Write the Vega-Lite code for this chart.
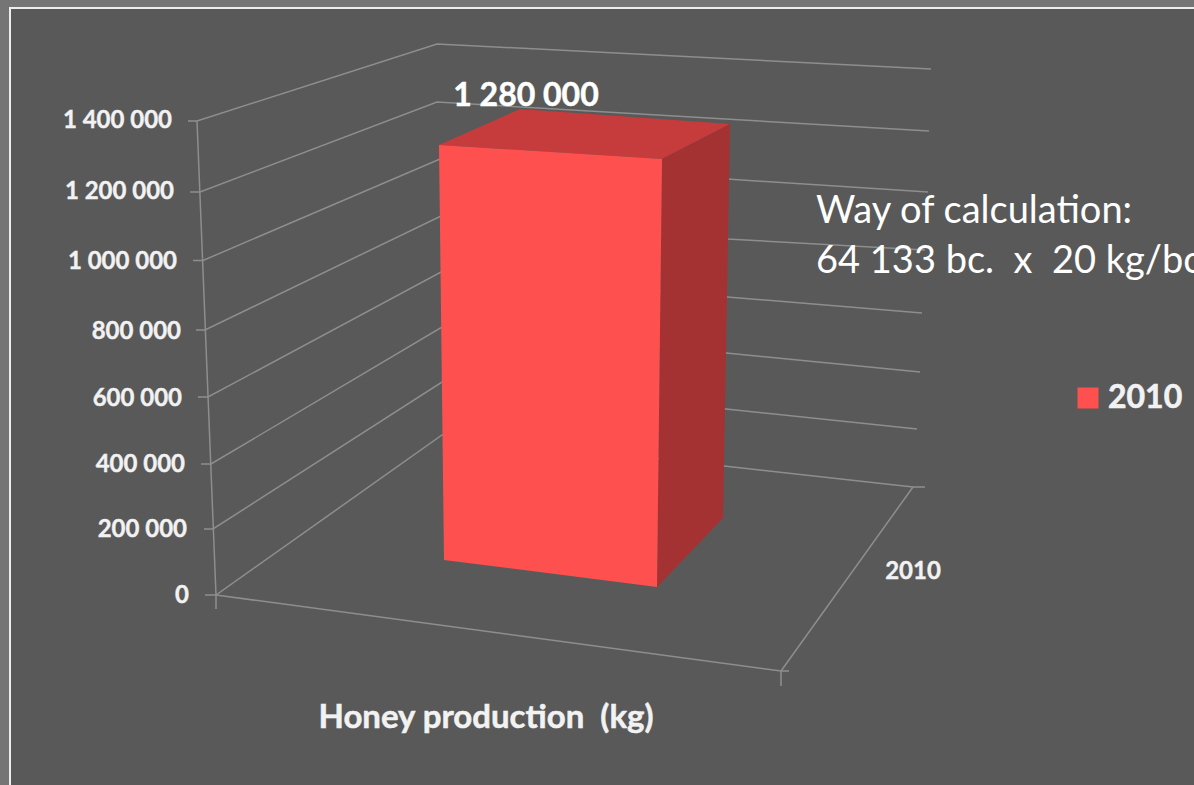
{"$schema":"https://vega.github.io/schema/vega-lite/v6.json","width":1194,"height":785,"padding":0,"autosize":{"type":"none"},"background":"#757575","config":{"view":{"stroke":null}},
"datasets":{
"faces":[
{"shape":"panel","v":1,"x":10,"h":1761000},{"shape":"panel","v":2,"x":1194,"h":1761000},{"shape":"panel","v":3,"x":1194,"h":-570000},{"shape":"panel","v":4,"x":10,"h":-570000}
],
"border":[
{"v":1,"x":10,"h":-570000},{"v":2,"x":10,"h":1761000},{"v":3,"x":1194,"h":1761000}
],
"bar":[
{"shape":"top","v":1,"x":439,"h":1350000},{"shape":"top","v":2,"x":520,"h":1458000},{"shape":"top","v":3,"x":730,"h":1413000},{"shape":"top","v":4,"x":662,"h":1308000},
{"shape":"side","v":1,"x":662,"h":1308000},{"shape":"side","v":2,"x":730,"h":1413000},{"shape":"side","v":3,"x":723,"h":231000},{"shape":"side","v":4,"x":657,"h":24000},
{"shape":"front","v":1,"x":439,"h":1350000},{"shape":"front","v":2,"x":662,"h":1308000},{"shape":"front","v":3,"x":657,"h":24000},{"shape":"front","v":4,"x":444,"h":105000}
],
"grid":[
{"g":"1400000","v":1,"x":188,"h":1422000},{"g":"1400000","v":2,"x":197,"h":1422000},{"g":"1400000","v":3,"x":437,"h":1653000},{"g":"1400000","v":4,"x":931,"h":1578000},
{"g":"1200000","v":1,"x":190,"h":1209000},{"g":"1200000","v":2,"x":200,"h":1209000},{"g":"1200000","v":3,"x":437,"h":1479000},{"g":"1200000","v":4,"x":929,"h":1392000},
{"g":"1000000","v":1,"x":193,"h":1003500},{"g":"1000000","v":2,"x":203,"h":1003500},{"g":"1000000","v":3,"x":440,"h":1308000},{"g":"1000000","v":4,"x":727,"h":1248000},{"g":"1000000","v":5,"x":928,"h":1209000},
{"g":"800000","v":1,"x":196,"h":795000},{"g":"800000","v":2,"x":205,"h":795000},{"g":"800000","v":3,"x":441,"h":1137000},{"g":"800000","v":4,"x":727,"h":1068000},{"g":"800000","v":5,"x":925,"h":1035000},
{"g":"600000","v":1,"x":198,"h":594000},{"g":"600000","v":2,"x":208,"h":594000},{"g":"600000","v":3,"x":441,"h":969000},{"g":"600000","v":4,"x":727,"h":894000},{"g":"600000","v":5,"x":922,"h":846000},
{"g":"400000","v":1,"x":201,"h":393000},{"g":"400000","v":2,"x":211,"h":393000},{"g":"400000","v":3,"x":442,"h":804000},{"g":"400000","v":4,"x":726,"h":726000},{"g":"400000","v":5,"x":920,"h":669000},
{"g":"200000","v":1,"x":204,"h":198000},{"g":"200000","v":2,"x":213,"h":198000},{"g":"200000","v":3,"x":442,"h":639000},{"g":"200000","v":4,"x":726,"h":558000},{"g":"200000","v":5,"x":917,"h":498000},
{"g":"0","v":1,"x":205,"h":0},{"g":"0","v":2,"x":216,"h":0},{"g":"0","v":3,"x":442,"h":480000},{"g":"0","v":4,"x":724,"h":387000},{"g":"0","v":5,"x":913,"h":324000},{"g":"0","v":6,"x":925,"h":324000},
{"g":"wall","v":1,"x":197,"h":1422000},{"g":"wall","v":2,"x":216,"h":0},{"g":"wall","v":3,"x":216,"h":-42000},
{"g":"front","v":1,"x":216,"h":0},{"g":"front","v":2,"x":781,"h":-228000},{"g":"front","v":3,"x":789,"h":-228000},
{"g":"depth","v":1,"x":913,"h":324000},{"g":"depth","v":2,"x":781,"h":-228000},{"g":"depth","v":3,"x":781,"h":-273000}
],
"ticks":[
{"label":"1 400 000","x":172,"h":1422000},{"label":"1 200 000","x":174,"h":1209000},{"label":"1 000 000","x":177,"h":999000},{"label":"800 000","x":181,"h":789000},{"label":"600 000","x":182,"h":588000},{"label":"400 000","x":185,"h":390000},{"label":"200 000","x":187,"h":195000},{"label":"0","x":189,"h":-3000}
],
"notes":[
{"label":"Way of calculation:","x":816,"h":1149000},{"label":"64 133 bc.\u00a0 x\u00a0 20 kg/bc","x":816,"h":999000}
]
},
"layer":[
{"data":{"name":"faces"},"mark":{"type":"line","fill":"#595959","strokeWidth":0,"interpolate":"linear-closed"},"encoding":{"x":{"field":"x","type":"quantitative","scale":{"domain":[0,1194],"nice":false,"zero":false},"axis":null},"y":{"field":"h","type":"quantitative","scale":{"domain":[-570000,1785000],"nice":false,"zero":false},"axis":null},"order":{"field":"v"},"detail":{"field":"shape"}}},
{"data":{"name":"border"},"mark":{"type":"line","stroke":"#EDEDED","strokeWidth":2},"encoding":{"x":{"field":"x","type":"quantitative"},"y":{"field":"h","type":"quantitative"},"order":{"field":"v"}}},
{"data":{"name":"grid"},"mark":{"type":"line","stroke":"#8E8E8E","strokeWidth":1.5},"encoding":{"x":{"field":"x","type":"quantitative"},"y":{"field":"h","type":"quantitative"},"order":{"field":"v"},"detail":{"field":"g"}}},
{"data":{"name":"bar"},"mark":{"type":"line","strokeWidth":0,"interpolate":"linear-closed"},"encoding":{"x":{"field":"x","type":"quantitative"},"y":{"field":"h","type":"quantitative"},"order":{"field":"v"},"detail":{"field":"shape"},"fill":{"field":"shape","type":"nominal","scale":{"domain":["top","side","front"],"range":["#C63C3C","#A53232","#FF5050"]},"legend":null}}},
{"data":{"name":"ticks"},"mark":{"type":"text","font":"Lato","fontWeight":"bold","fontSize":24,"align":"right","baseline":"middle","fill":"#F2F2F2","stroke":"#F2F2F2","strokeWidth":0.4},"encoding":{"x":{"field":"x","type":"quantitative"},"y":{"field":"h","type":"quantitative"},"text":{"field":"label"}}},
{"data":{"name":"notes"},"mark":{"type":"text","font":"Lato","fontSize":38,"align":"left","baseline":"middle","fill":"#FFFFFF"},"encoding":{"x":{"field":"x","type":"quantitative"},"y":{"field":"h","type":"quantitative"},"text":{"field":"label"}}},
{"data":{"values":[{"label":"1 280 000","x":526,"h":1497000}]},"mark":{"type":"text","font":"Lato","fontWeight":"bold","fontSize":32,"align":"center","baseline":"middle","fill":"#FFFFFF","stroke":"#FFFFFF","strokeWidth":0.5},"encoding":{"x":{"field":"x","type":"quantitative"},"y":{"field":"h","type":"quantitative"},"text":{"field":"label"}}},
{"data":{"values":[{"label":"Honey production\u00a0 (kg)","x":486,"h":-369000}]},"mark":{"type":"text","font":"Lato","fontWeight":"bold","fontSize":33,"align":"center","baseline":"middle","fill":"#F2F2F2","stroke":"#F2F2F2","strokeWidth":0.5},"encoding":{"x":{"field":"x","type":"quantitative"},"y":{"field":"h","type":"quantitative"},"text":{"field":"label"}}},
{"data":{"values":[{"label":"2010","x":913,"h":69000}]},"mark":{"type":"text","font":"Lato","fontWeight":"bold","fontSize":24,"align":"center","baseline":"middle","fill":"#F2F2F2","stroke":"#F2F2F2","strokeWidth":0.4},"encoding":{"x":{"field":"x","type":"quantitative"},"y":{"field":"h","type":"quantitative"},"text":{"field":"label"}}},
{"data":{"values":[{"label":"2010","x":1108,"h":591000}]},"mark":{"type":"text","font":"Lato","fontWeight":"bold","fontSize":32,"align":"left","baseline":"middle","fill":"#F2F2F2","stroke":"#F2F2F2","strokeWidth":0.6},"encoding":{"x":{"field":"x","type":"quantitative"},"y":{"field":"h","type":"quantitative"},"text":{"field":"label"}}},
{"data":{"values":[{"x":1088,"h":591000}]},"mark":{"type":"point","shape":"square","filled":true,"size":441,"fill":"#FF5050","opacity":1},"encoding":{"x":{"field":"x","type":"quantitative"},"y":{"field":"h","type":"quantitative"}}}
],
"resolve":{"scale":{"x":"shared","y":"shared"}}}
